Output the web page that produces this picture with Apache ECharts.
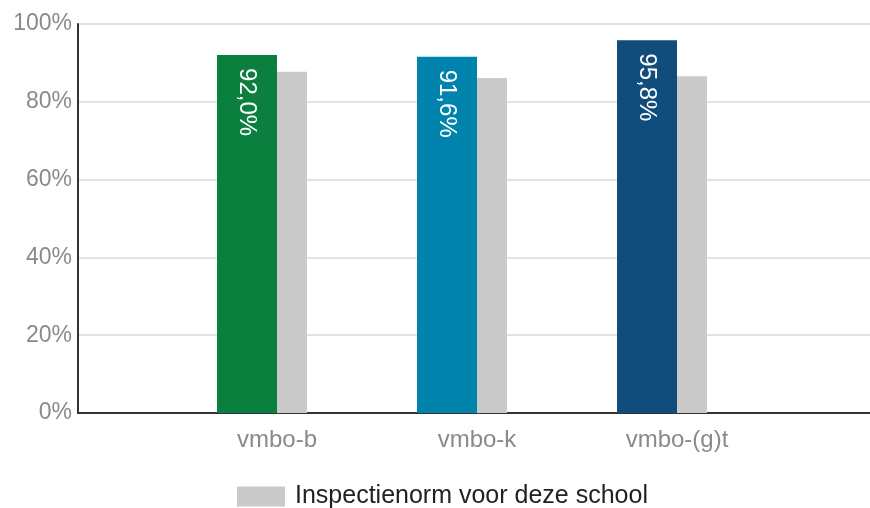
<!DOCTYPE html>
<html>
<head>
<meta charset="utf-8">
<script src="https://cdn.jsdelivr.net/npm/echarts@6/dist/echarts.min.js"></script>
<style>
  html, body { margin: 0; padding: 0; background: #fff; }
  #main { width: 870px; height: 508px; }
</style>
</head>
<body>
<div id="main"></div>
<script>
var categories = ['vmbo-b', 'vmbo-k', 'vmbo-(g)t'];
var schoolValues = [92.0, 91.6, 95.8];
var schoolColors = ['#0a7f3e', '#0084ae', '#104c7c'];
var normValues = [87.7, 86.1, 86.6];
var yTicks = [0, 20, 40, 60, 80, 100];

var chart = echarts.init(document.getElementById('main'));
var font = 'Arial, "Liberation Sans", sans-serif';

var option = {
  animation: false,
  textStyle: { fontFamily: font },
  legend: {
    data: [{ name: 'Inspectienorm voor deze school', icon: 'rect' }],
    left: 237,
    top: 484,
    padding: 0,
    itemWidth: 48,
    itemHeight: 20,
    textStyle: { color: '#222', fontSize: 25, fontFamily: font, padding: [0, 0, 0, 5] }
  },
  grid: [
    { left: 78, right: 0, top: 24, bottom: 95 },
    { left: 177, width: 600, top: 24, bottom: 95 }
  ],
  xAxis: [
    {
      gridIndex: 0, type: 'value', min: 0, max: 1,
      axisLine: { show: true, lineStyle: { color: '#333', width: 2 } },
      axisTick: { show: false }, axisLabel: { show: false }, splitLine: { show: false }
    },
    {
      gridIndex: 1, type: 'category', data: categories,
      axisLine: { show: false }, axisTick: { show: false },
      axisLabel: { color: '#8a8a8a', fontSize: 24, margin: 15, fontFamily: font }
    }
  ],
  yAxis: [
    {
      gridIndex: 0, type: 'value', min: yTicks[0], max: yTicks[yTicks.length - 1], interval: 20,
      axisLine: { show: true, lineStyle: { color: '#333', width: 2 } },
      axisTick: { show: false },
      axisLabel: { formatter: '{value}%', color: '#8a8a8a', fontSize: 23, margin: 6, fontFamily: font },
      splitLine: { lineStyle: { color: '#e2e2e2', width: 2 } }
    },
    {
      gridIndex: 1, type: 'value', min: 0, max: 100, show: false
    }
  ],
  series: [
    {
      name: 'school',
      type: 'bar',
      xAxisIndex: 1, yAxisIndex: 1,
      barWidth: 60, barGap: '0%',
      data: schoolValues.map(function (v, i) {
        return { value: v, itemStyle: { color: schoolColors[i] } };
      }),
      label: {
        show: true,
        position: 'insideTop',
        distance: 13,
        rotate: -90,
        align: 'left',
        verticalAlign: 'middle',
        color: '#fff',
        fontSize: 24,
        fontFamily: font,
        formatter: function (p) { return p.value.toFixed(1).replace('.', ',') + '%'; }
      }
    },
    {
      name: 'Inspectienorm voor deze school',
      type: 'bar',
      xAxisIndex: 1, yAxisIndex: 1,
      barWidth: 30, barGap: '0%',
      itemStyle: { color: '#cacaca' },
      data: normValues
    },
    {
      name: 'spacer',
      type: 'bar',
      xAxisIndex: 1, yAxisIndex: 1,
      barWidth: 30, barGap: '0%',
      itemStyle: { color: 'transparent' },
      silent: true,
      data: [0, 0, 0]
    }
  ]
};

chart.setOption(option);
</script>
</body>
</html>
